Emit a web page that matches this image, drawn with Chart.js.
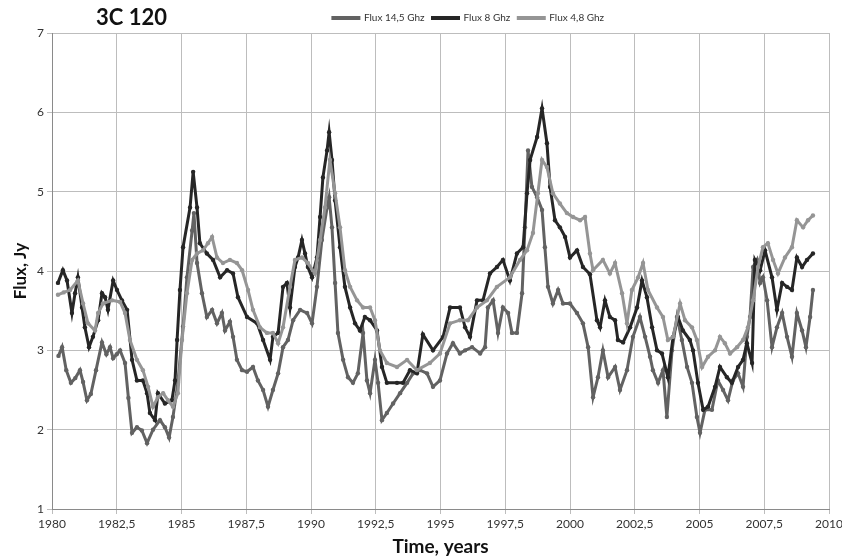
<!DOCTYPE html>
<html lang="en">
<head>
<meta charset="UTF-8" />
<title>3C 120 flux</title>
<script src="https://cdn.jsdelivr.net/npm/chart.js@4.4.0/dist/chart.umd.min.js"></script>
<style>
    body { margin: 0; background: #fff; }
    div.main { position: relative; width: 842px; height: 558px; }
    h3 {
        position: absolute; left: 96px; top: 3px; margin: 0;
        font: bold 22px Lato, "Open Sans", sans-serif;
        color: #111;
    }
</style>
</head>
<body>
<div class="main">
    <h3>3C 120</h3>
    <canvas id="myChart" width="842" height="558"></canvas>
</div>

<script>
// values: time in years, flux in Jy
const years145 = [1980.25, 1980.39, 1980.55, 1980.73, 1980.9, 1981.08, 1981.2, 1981.35, 1981.5, 1981.7, 1981.93, 1982.1, 1982.24, 1982.36, 1982.5, 1982.63, 1982.82, 1982.95, 1983.09, 1983.28, 1983.47, 1983.67, 1983.9, 1984.17, 1984.36, 1984.52, 1984.67, 1984.86, 1985.06, 1985.21, 1985.41, 1985.48, 1985.6, 1985.79, 1985.98, 1986.18, 1986.37, 1986.56, 1986.68, 1986.87, 1986.99, 1987.14, 1987.34, 1987.53, 1987.76, 1987.95, 1988.15, 1988.34, 1988.53, 1988.73, 1988.92, 1989.11, 1989.31, 1989.58, 1989.85, 1990.04, 1990.23, 1990.42, 1990.62, 1990.7, 1990.81, 1990.93, 1991.04, 1991.24, 1991.43, 1991.62, 1991.81, 1992.01, 1992.16, 1992.28, 1992.47, 1992.59, 1992.74, 1992.93, 1993.17, 1993.44, 1993.71, 1993.94, 1994.21, 1994.48, 1994.71, 1994.98, 1995.25, 1995.48, 1995.75, 1995.95, 1996.22, 1996.53, 1996.72, 1996.83, 1997.03, 1997.22, 1997.41, 1997.61, 1997.76, 1997.95, 1998.15, 1998.26, 1998.38, 1998.53, 1998.73, 1998.92, 1999.03, 1999.15, 1999.34, 1999.54, 1999.73, 2000.0, 2000.27, 2000.5, 2000.7, 2000.89, 2001.08, 2001.27, 2001.47, 2001.74, 2001.93, 2002.2, 2002.43, 2002.7, 2002.9, 2003.09, 2003.2, 2003.4, 2003.59, 2003.74, 2003.94, 2004.13, 2004.32, 2004.52, 2004.71, 2004.9, 2005.02, 2005.21, 2005.48, 2005.71, 2005.91, 2006.1, 2006.29, 2006.49, 2006.68, 2006.83, 2006.95, 2007.07, 2007.22, 2007.34, 2007.45, 2007.61, 2007.8, 2007.99, 2008.19, 2008.38, 2008.57, 2008.76, 2008.96, 2009.11, 2009.27, 2009.38];
const flux145 = [2.93, 3.04, 2.75, 2.59, 2.65, 2.75, 2.6, 2.37, 2.45, 2.75, 3.1, 2.95, 3.04, 2.9, 2.95, 3.0, 2.84, 2.4, 1.96, 2.03, 1.99, 1.83, 2.0, 2.12, 2.03, 1.9, 2.16, 2.59, 3.3, 3.92, 4.51, 4.73, 4.1, 3.72, 3.42, 3.51, 3.34, 3.47, 3.25, 3.36, 3.17, 2.88, 2.75, 2.73, 2.79, 2.62, 2.5, 2.29, 2.5, 2.71, 3.04, 3.13, 3.38, 3.51, 3.47, 3.34, 3.8, 4.39, 4.8, 4.93, 4.55, 3.85, 3.22, 2.88, 2.66, 2.59, 2.71, 3.22, 2.62, 2.46, 2.88, 2.59, 2.12, 2.21, 2.33, 2.46, 2.59, 2.71, 2.75, 2.71, 2.54, 2.62, 2.96, 3.09, 2.96, 3.0, 3.04, 2.96, 3.04, 3.54, 3.63, 3.22, 3.54, 3.47, 3.22, 3.22, 3.72, 4.55, 5.52, 5.06, 4.93, 4.77, 4.3, 3.8, 3.59, 3.76, 3.59, 3.59, 3.47, 3.34, 3.04, 2.41, 2.66, 3.0, 2.66, 2.79, 2.5, 2.75, 3.17, 3.42, 3.17, 2.92, 2.75, 2.59, 2.75, 2.16, 3.0, 3.42, 3.13, 2.79, 2.59, 2.16, 1.96, 2.25, 2.25, 2.62, 2.5, 2.37, 2.62, 2.71, 2.54, 3.17, 3.42, 4.05, 4.14, 3.85, 3.92, 3.63, 3.04, 3.29, 3.47, 3.17, 2.92, 3.47, 3.25, 3.04, 3.42, 3.76];

const years8 = [1980.23, 1980.42, 1980.58, 1980.77, 1980.89, 1981.0, 1981.16, 1981.27, 1981.43, 1981.58, 1981.78, 1981.93, 1982.05, 1982.16, 1982.36, 1982.51, 1982.7, 1982.9, 1983.09, 1983.28, 1983.51, 1983.67, 1983.78, 1983.98, 1984.09, 1984.36, 1984.63, 1984.75, 1984.83, 1984.94, 1985.06, 1985.33, 1985.45, 1985.6, 1985.71, 1985.98, 1986.22, 1986.49, 1986.76, 1986.99, 1987.18, 1987.53, 1987.92, 1988.15, 1988.42, 1988.53, 1988.73, 1988.92, 1989.07, 1989.19, 1989.38, 1989.5, 1989.65, 1989.77, 1989.88, 1990.04, 1990.23, 1990.35, 1990.46, 1990.62, 1990.7, 1990.81, 1990.93, 1991.12, 1991.31, 1991.51, 1991.7, 1991.89, 1992.08, 1992.28, 1992.55, 1992.74, 1992.93, 1993.32, 1993.55, 1993.82, 1994.09, 1994.32, 1994.71, 1995.1, 1995.37, 1995.75, 1995.95, 1996.14, 1996.41, 1996.64, 1996.91, 1997.18, 1997.41, 1997.68, 1997.95, 1998.19, 1998.34, 1998.46, 1998.73, 1998.92, 1999.11, 1999.23, 1999.42, 1999.61, 1999.81, 2000.0, 2000.27, 2000.5, 2000.77, 2001.04, 2001.16, 2001.35, 2001.54, 2001.74, 2001.85, 2002.05, 2002.32, 2002.59, 2002.78, 2002.97, 2003.17, 2003.36, 2003.55, 2003.78, 2003.98, 2004.17, 2004.36, 2004.63, 2004.75, 2004.94, 2005.14, 2005.33, 2005.6, 2005.79, 2006.06, 2006.25, 2006.49, 2006.68, 2006.83, 2007.03, 2007.14, 2007.34, 2007.53, 2007.8, 2007.99, 2008.19, 2008.38, 2008.57, 2008.76, 2008.96, 2009.15, 2009.38];
const flux8 = [3.85, 4.01, 3.88, 3.47, 3.72, 3.92, 3.54, 3.29, 3.04, 3.17, 3.38, 3.72, 3.67, 3.51, 3.88, 3.76, 3.63, 3.51, 2.88, 2.62, 2.62, 2.46, 2.21, 2.12, 2.46, 2.33, 2.37, 2.62, 3.13, 3.76, 4.3, 4.8, 5.25, 4.8, 4.35, 4.22, 4.14, 3.92, 4.01, 3.97, 3.67, 3.42, 3.34, 3.13, 2.88, 3.17, 3.22, 3.8, 3.85, 3.54, 4.05, 4.17, 4.39, 4.22, 4.05, 3.92, 4.17, 4.68, 5.18, 5.52, 5.75, 5.4, 4.89, 4.3, 3.8, 3.54, 3.34, 3.25, 3.42, 3.38, 3.25, 2.79, 2.59, 2.59, 2.59, 2.75, 2.71, 3.2, 3.0, 3.17, 3.54, 3.54, 3.29, 3.17, 3.63, 3.63, 3.97, 4.05, 4.14, 3.88, 4.22, 4.3, 4.98, 5.4, 5.69, 6.05, 5.61, 5.06, 4.64, 4.55, 4.43, 4.17, 4.26, 4.05, 3.96, 3.38, 3.29, 3.63, 3.42, 3.38, 3.13, 3.1, 3.29, 3.54, 3.88, 3.67, 3.29, 3.0, 2.96, 2.66, 3.17, 3.42, 3.25, 3.13, 3.0, 2.59, 2.25, 2.29, 2.54, 2.79, 2.66, 2.59, 2.79, 2.88, 3.09, 2.84, 4.14, 4.01, 4.26, 3.92, 3.51, 3.85, 3.8, 3.76, 4.17, 4.05, 4.14, 4.22];

const years48 = [1980.23, 1980.45, 1980.7, 1981.0, 1981.2, 1981.39, 1981.66, 1981.78, 1981.97, 1982.32, 1982.63, 1982.82, 1983.01, 1983.28, 1983.51, 1983.71, 1983.9, 1984.09, 1984.29, 1984.48, 1984.67, 1984.86, 1985.02, 1985.21, 1985.41, 1985.6, 1985.83, 1986.02, 1986.18, 1986.37, 1986.6, 1986.87, 1987.14, 1987.34, 1987.57, 1987.76, 1988.03, 1988.3, 1988.53, 1988.73, 1988.92, 1989.19, 1989.38, 1989.65, 1989.88, 1990.15, 1990.35, 1990.54, 1990.73, 1990.93, 1991.12, 1991.31, 1991.51, 1991.78, 1992.01, 1992.28, 1992.47, 1992.66, 1992.93, 1993.32, 1993.71, 1994.09, 1994.59, 1994.98, 1995.37, 1995.75, 1996.06, 1996.41, 1996.79, 1997.18, 1997.68, 1998.07, 1998.34, 1998.57, 1998.76, 1998.92, 1999.11, 1999.34, 1999.61, 1999.88, 2000.12, 2000.39, 2000.58, 2000.77, 2000.89, 2001.27, 2001.54, 2001.74, 2002.01, 2002.2, 2002.39, 2002.63, 2002.82, 2003.01, 2003.36, 2003.59, 2003.78, 2003.98, 2004.25, 2004.44, 2004.71, 2004.9, 2005.1, 2005.33, 2005.6, 2005.79, 2005.98, 2006.18, 2006.45, 2006.68, 2006.87, 2007.07, 2007.26, 2007.45, 2007.64, 2007.84, 2008.03, 2008.3, 2008.57, 2008.76, 2009.0, 2009.19, 2009.38];
const flux48 = [3.7, 3.73, 3.76, 3.88, 3.59, 3.34, 3.25, 3.47, 3.59, 3.63, 3.61, 3.47, 3.13, 2.88, 2.75, 2.54, 2.29, 2.41, 2.46, 2.37, 2.29, 2.46, 3.13, 3.72, 4.14, 4.22, 4.26, 4.35, 4.43, 4.17, 4.1, 4.14, 4.1, 4.01, 3.76, 3.51, 3.29, 3.22, 3.22, 3.09, 3.29, 3.8, 4.14, 4.17, 4.1, 3.97, 4.39, 4.8, 5.4, 4.98, 4.55, 4.01, 3.8, 3.63, 3.54, 3.54, 3.38, 3.0, 2.84, 2.79, 2.88, 2.75, 2.84, 2.96, 3.34, 3.38, 3.38, 3.54, 3.63, 3.8, 3.92, 4.14, 4.26, 4.48, 4.98, 5.4, 5.31, 4.98, 4.85, 4.73, 4.68, 4.64, 4.68, 4.22, 4.01, 4.14, 3.97, 4.1, 3.72, 3.34, 3.76, 3.92, 4.1, 3.76, 3.54, 3.42, 3.13, 3.17, 3.59, 3.38, 3.29, 3.13, 2.79, 2.92, 3.0, 3.17, 3.09, 2.96, 3.04, 3.13, 3.29, 3.63, 4.05, 4.3, 4.35, 4.14, 3.97, 4.17, 4.3, 4.64, 4.55, 4.64, 4.7];

const yearTicks = [1980, 1982.5, 1985, 1987.5, 1990, 1992.5, 1995, 1997.5, 2000, 2002.5, 2005, 2007.5, 2010];
const fluxTicks = [1, 2, 3, 4, 5, 6, 7];

const FONT = 'Lato, "Open Sans", sans-serif';

function pts(xs, ys) {
    return xs.map((x, i) => ({ x: x, y: ys[i] }));
}

function series(label, xs, ys, color, order) {
    return {
        label: label,
        data: pts(xs, ys),
        showLine: true,
        borderColor: color,
        backgroundColor: color,
        pointBackgroundColor: color,
        pointBorderWidth: 0,
        pointRadius: 2.2,
        borderWidth: 3,
        tension: 0,
        order: order,
    };
}

// legend sits right of centre in the original
const shiftLegend = {
    id: "shiftLegend",
    afterLayout(chart) {
        chart.legend.left += 54;
        chart.legend.right += 54;
    },
};

window.addEventListener("load", setup);

function setup() {
    const ctx = document.getElementById("myChart").getContext("2d");
    new Chart(ctx, {
        type: "scatter",
        data: {
            datasets: [
                series("Flux 14,5 Ghz", years145, flux145, "#626262", 3),
                series("Flux 8 Ghz", years8, flux8, "#262626", 2),
                series("Flux 4,8 Ghz", years48, flux48, "#959595", 1),
            ],
        },
        plugins: [shiftLegend],
        options: {
            responsive: false,
            animation: false,
            layout: { padding: { top: 5, right: 13, bottom: 0, left: 0 } },
            plugins: {
                tooltip: { enabled: false },
                legend: {
                    labels: {
                        boxWidth: 26,
                        boxHeight: 1,
                        padding: 8,
                        color: "#333",
                        font: { family: FONT, size: 10 },
                        sort: (a, b) => a.datasetIndex - b.datasetIndex,
                    },
                },
            },
            scales: {
                x: {
                    type: "linear",
                    min: 1980,
                    max: 2010,
                    afterBuildTicks: (s) => { s.ticks = yearTicks.map((v) => ({ value: v })); },
                    afterFit: (s) => { s.height = 49; s.paddingLeft = 0; s.paddingRight = 0; },
                    ticks: {
                        autoSkip: false,
                        maxRotation: 0,
                        color: "#333",
                        font: { family: FONT, size: 12 },
                        callback: (v) => String(v).replace(".", ","),
                    },
                    grid: { color: "#bdbdbd", tickLength: 5 },
                    border: { color: "#8a8a8a" },
                    title: {
                        display: true,
                        text: "Time, years",
                        color: "#111",
                        font: { family: FONT, size: 19, weight: "bold" },
                        padding: { top: 2, bottom: 0 },
                    },
                },
                y: {
                    min: 1,
                    max: 7,
                    afterBuildTicks: (s) => { s.ticks = fluxTicks.map((v) => ({ value: v })); },
                    afterFit: (s) => { s.width = 52; s.paddingTop = 0; s.paddingBottom = 0; },
                    ticks: { color: "#333", font: { family: FONT, size: 12 } },
                    grid: { color: "#bdbdbd", tickLength: 5 },
                    border: { color: "#8a8a8a" },
                    title: {
                        display: true,
                        text: "Flux, Jy",
                        color: "#111",
                        font: { family: FONT, size: 17, weight: "bold" },
                        padding: { top: 10, bottom: 0 },
                    },
                },
            },
        },
    });
}
</script>
</body>
</html>
